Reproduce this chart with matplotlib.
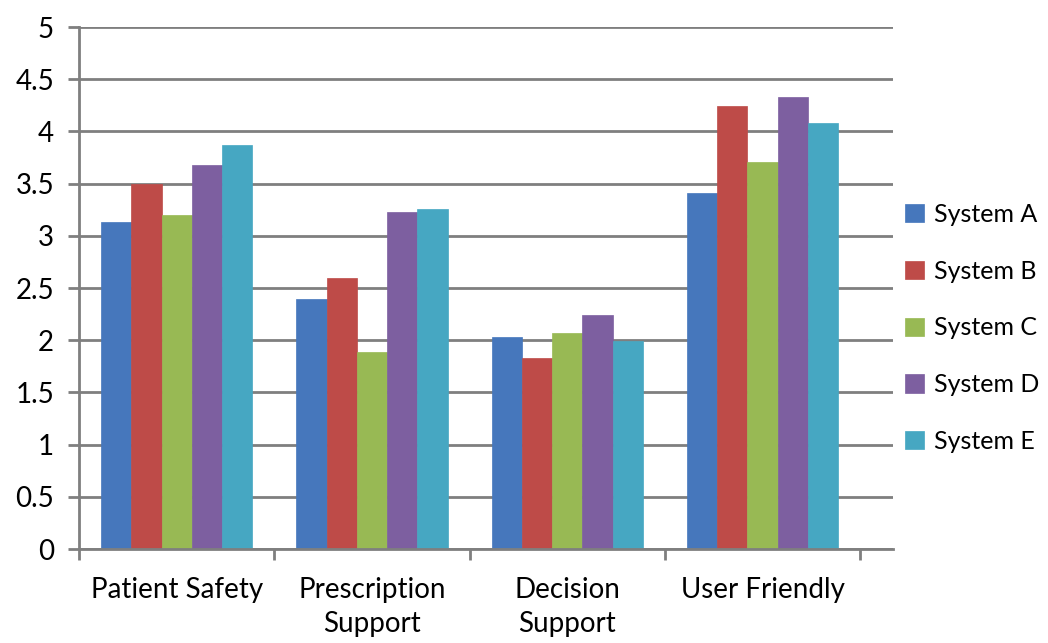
import matplotlib.pyplot as plt
import numpy as np

plt.rcParams['font.family'] = ['Lato', 'DejaVu Sans']

# Data
categories = ['Patient Safety', 'Prescription\nSupport', 'Decision\nSupport', 'User Friendly']
systems = ['System A', 'System B', 'System C', 'System D', 'System E']
system_a = [3.13, 2.40, 2.03, 3.41]
system_b = [3.50, 2.60, 1.83, 4.24]
system_c = [3.20, 1.89, 2.07, 3.71]
system_d = [3.68, 3.23, 2.24, 4.33]
system_e = [3.87, 3.26, 1.99, 4.08]
colors = ['#4677BC', '#BE4B48', '#98B954', '#7D5FA0', '#46A7C2']

series = [system_a, system_b, system_c, system_d, system_e]

fig = plt.figure(figsize=(10.48, 6.43), dpi=100)
ax = fig.add_axes([0.0754, 0.146, 0.777, 0.812])

x = np.arange(len(categories))
width = 0.155
for i, (vals, name, col) in enumerate(zip(series, systems, colors)):
    ax.bar(x + (i - 2) * width, vals, width, color=col, label=name, zorder=3,
           edgecolor=col, linewidth=0.5)

ax.set_ylim(0, 5)
ax.set_xlim(-0.5, 3.67)
ax.set_yticks(np.arange(0, 5.01, 0.5))
ax.set_yticklabels(['0', '0.5', '1', '1.5', '2', '2.5', '3', '3.5', '4', '4.5', '5'])

# category boundaries get the tick marks, labels sit at the centres
ax.set_xticks(np.arange(-0.5, 4, 1.0))
ax.set_xticklabels([])
ax.set_xticks(x, minor=True)
ax.set_xticklabels(categories, minor=True, linespacing=1.4)
ax.tick_params(axis='x', which='minor', length=0, pad=20, labelsize=20)
ax.tick_params(axis='x', which='major', length=8, width=2, color='#7f7f7f', direction='out')
ax.tick_params(axis='y', length=8, width=2, color='#7f7f7f', labelsize=20, pad=10)

ax.yaxis.grid(True, color='#7f7f7f', linewidth=2, zorder=0)
ax.set_axisbelow(True)
for s in ['top', 'right']:
    ax.spines[s].set_visible(False)
for s in ['left', 'bottom']:
    ax.spines[s].set_color('#7f7f7f')
    ax.spines[s].set_linewidth(2)
ax.spines['bottom'].set_zorder(4)

fig.legend(loc='center left', bbox_to_anchor=(0.864, 0.49), frameon=False,
           fontsize=18, handlelength=0.75, handleheight=0.75, handletextpad=0.4,
           labelspacing=1.35, borderpad=0, borderaxespad=0)

plt.savefig('out.png', dpi=100)
